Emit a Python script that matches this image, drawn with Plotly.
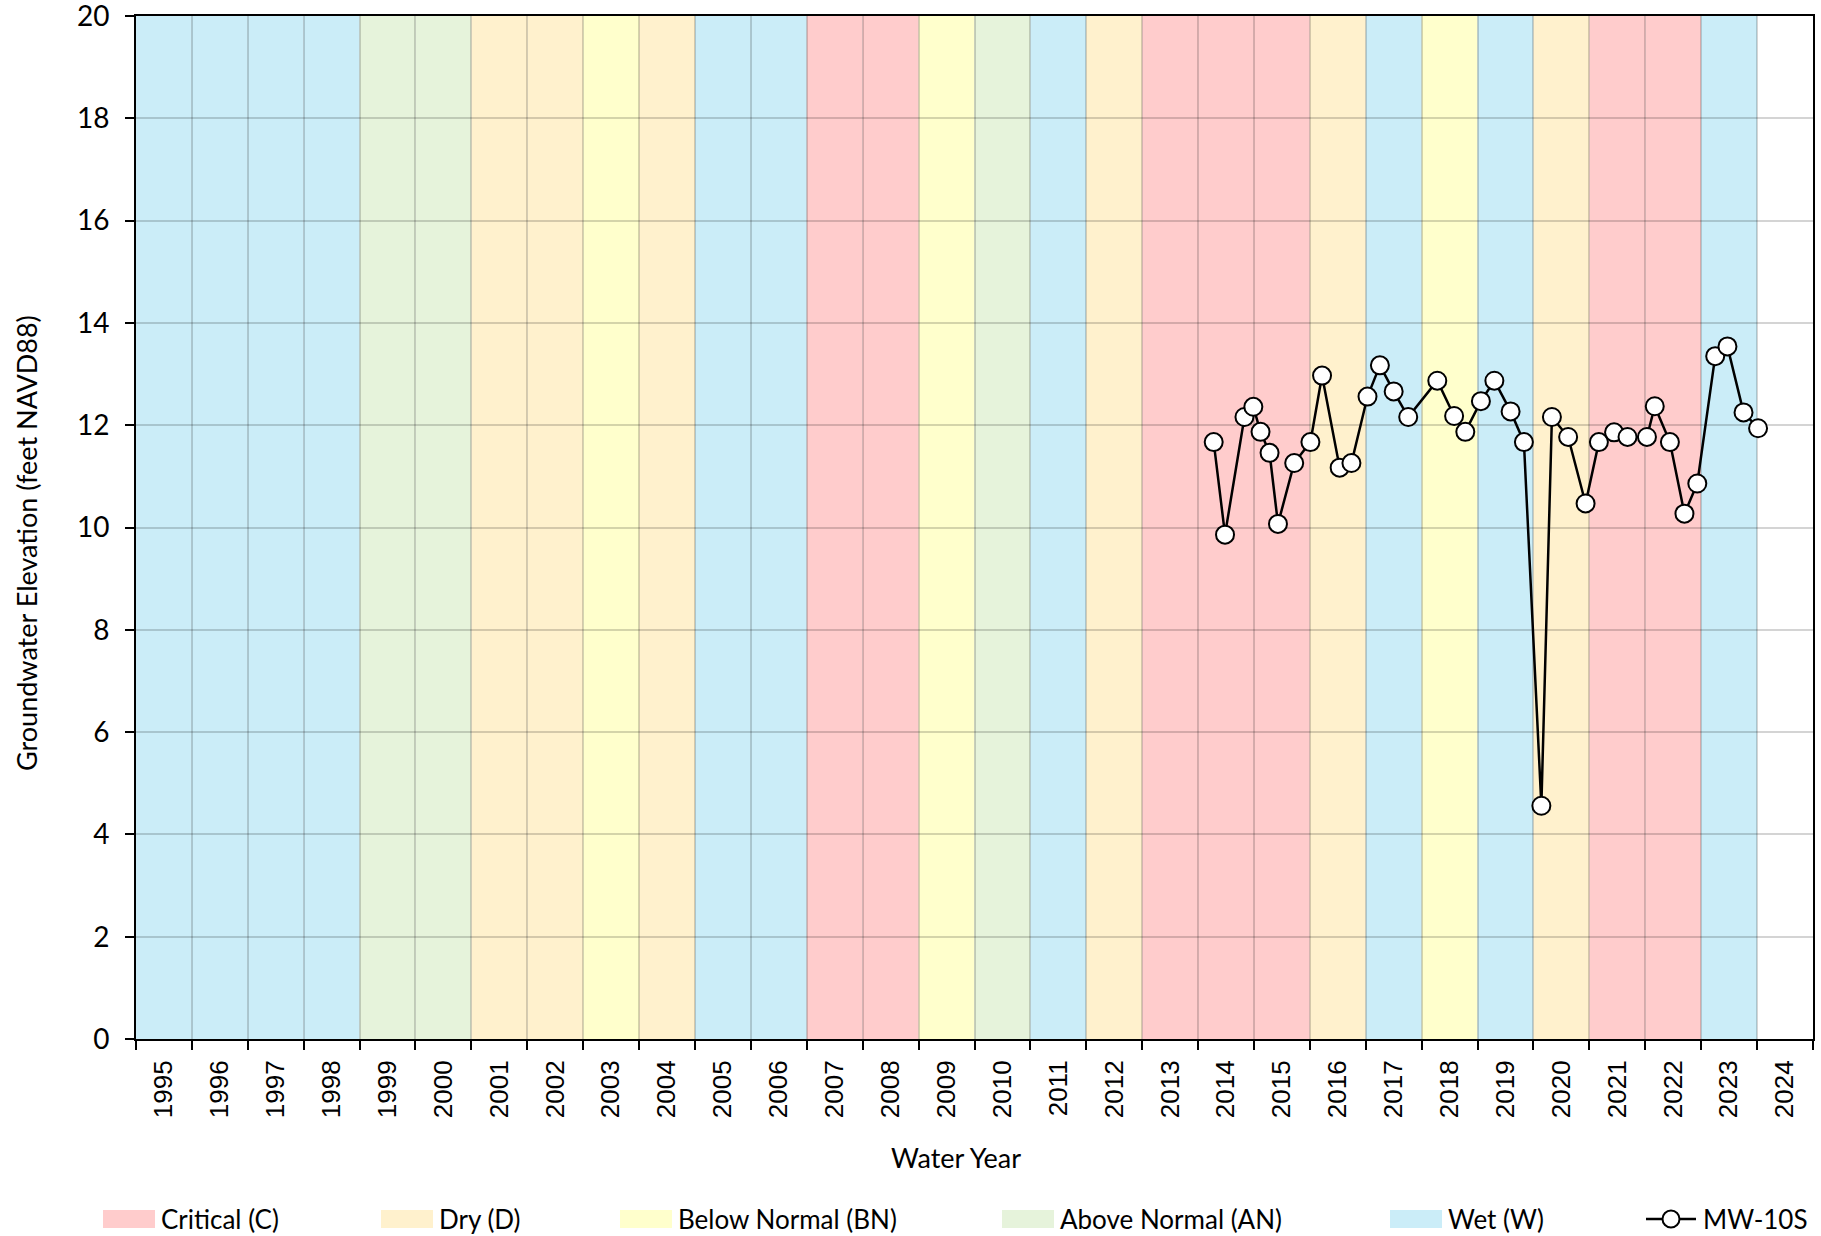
import plotly.graph_objects as go

# ---------------- data ----------------
wy_years = list(range(1995, 2025))
wy_types = ["W", "W", "W", "W", "AN", "AN", "D", "D", "BN", "D",
            "W", "W", "C", "C", "BN", "AN", "W", "D", "C", "C",
            "C", "D", "W", "BN", "W", "D", "C", "C", "W", ""]

type_names = ["C", "D", "BN", "AN", "W"]
type_labels = ["Critical (C)", "Dry (D)", "Below Normal (BN)", "Above Normal (AN)", "Wet (W)"]
type_colors = {"C": "#FFCCCC", "D": "#FFF1CD", "BN": "#FFFFCC", "AN": "#E6F3DB", "W": "#CBEDF8"}

series_name = "MW-10S"
dates = ["2014-01-11", "2014-03-26", "2014-07-31", "2014-09-27", "2014-11-13",
         "2015-01-11", "2015-03-07", "2015-06-21", "2015-10-05", "2015-12-20",
         "2016-04-13", "2016-06-29", "2016-10-12", "2017-01-01", "2017-04-01",
         "2017-07-05", "2018-01-11", "2018-05-01", "2018-07-13", "2018-10-23",
         "2019-01-19", "2019-05-05", "2019-07-31", "2019-11-22", "2020-01-30",
         "2020-05-15", "2020-09-06", "2020-12-02", "2021-03-11", "2021-06-07",
         "2021-10-12", "2021-12-02", "2022-03-11", "2022-06-14", "2022-09-06",
         "2023-01-01", "2023-03-22", "2023-07-05", "2023-10-08"]
elev = [11.67, 9.86, 12.16, 12.36, 11.87,
        11.46, 10.07, 11.26, 11.67, 12.97,
        11.17, 11.26, 12.56, 13.17, 12.66,
        12.16, 12.87, 12.18, 11.87, 12.47,
        12.87, 12.27, 11.67, 4.56, 12.16,
        11.77, 10.47, 11.67, 11.86, 11.77,
        11.77, 12.37, 11.67, 10.27, 10.86,
        13.35, 13.54, 12.25, 11.94]

y_ticks = list(range(0, 21, 2))

# ---------------- layout geometry ----------------
W, H = 1821, 1236
ML, MR, MT, MB = 136, 8, 16, 197
PW = W - ML - MR
PH = H - MT - MB


def px_x(px):
    return (px - ML) / PW


def px_y(py):
    return (H - MB - py) / PH


CAL = "Lato, Carlito, Calibri, 'Open Sans', sans-serif"
ARI = "'Liberation Sans', Arial, sans-serif"
TXT = 27
LEG = 26

fig = go.Figure()

fig.add_trace(go.Scatter(
    x=dates, y=elev, mode="lines+markers", name=series_name,
    line=dict(color="black", width=2.5),
    marker=dict(size=18, color="white", line=dict(color="black", width=2)),
    showlegend=False,
))

shapes = []
for yr, t in zip(wy_years, wy_types):
    if not t:
        continue
    shapes.append(dict(type="rect", xref="x", yref="paper",
                       x0=f"{yr - 1}-10-01", x1=f"{yr}-10-01", y0=0, y1=1,
                       fillcolor=type_colors[t], line=dict(width=0), layer="below"))

annotations = []
# axis titles
annotations.append(dict(text="Groundwater Elevation (feet NAVD88)", xref="paper", yref="paper",
                        x=px_x(26), y=px_y(543), textangle=-90, showarrow=False,
                        xanchor="center", yanchor="middle",
                        font=dict(family=CAL, size=TXT, color="black")))
annotations.append(dict(text="Water Year", xref="paper", yref="paper",
                        x=px_x(956), y=px_y(1157), showarrow=False,
                        xanchor="center", yanchor="middle",
                        font=dict(family=CAL, size=TXT, color="black")))

# manual legend
leg_y = 1219
swatch_x = [103, 381, 620, 1002, 1390]
for t, lab, sx in zip(type_names, type_labels, swatch_x):
    shapes.append(dict(type="rect", xref="paper", yref="paper",
                       x0=px_x(sx), x1=px_x(sx + 52), y0=px_y(leg_y + 9), y1=px_y(leg_y - 9),
                       fillcolor=type_colors[t], line=dict(width=0)))
    annotations.append(dict(text=lab, xref="paper", yref="paper", x=px_x(sx + 56), y=px_y(leg_y),
                            xanchor="left", yanchor="middle", showarrow=False,
                            font=dict(family=CAL, size=LEG, color="black")))
lx0, lx1 = 1646, 1696
shapes.append(dict(type="line", xref="paper", yref="paper", x0=px_x(lx0), x1=px_x(lx1),
                   y0=px_y(leg_y), y1=px_y(leg_y), line=dict(color="black", width=2.5)))
cx, r = (lx0 + lx1) / 2, 8.5
shapes.append(dict(type="circle", xref="paper", yref="paper", x0=px_x(cx - r), x1=px_x(cx + r),
                   y0=px_y(leg_y + r), y1=px_y(leg_y - r), fillcolor="white",
                   line=dict(color="black", width=2)))
annotations.append(dict(text=series_name, xref="paper", yref="paper", x=px_x(lx1 + 5), y=px_y(leg_y),
                        xanchor="left", yanchor="middle", showarrow=False,
                        font=dict(family=CAL, size=LEG, color="black")))

grid_col = "rgba(0,0,0,0.17)"

fig.update_layout(
    width=W, height=H,
    margin=dict(l=ML, r=MR, t=MT, b=MB, pad=0, autoexpand=False),
    paper_bgcolor="white", plot_bgcolor="white",
    showlegend=False,
    shapes=shapes, annotations=annotations,
    xaxis=dict(
        type="date", range=["1994-10-01", "2024-10-01"], automargin=False,
        tickmode="array", tickvals=[f"{y}-04-01" for y in wy_years],
        ticktext=[str(y) for y in wy_years], tickangle=-90,
        ticks="", ticklen=0, showgrid=False, zeroline=False,
        tickfont=dict(family=ARI, size=26, color="black"),
        ticklabelstandoff=9, ticklabeloverflow="allow",
        showline=True, linecolor="black", linewidth=2, mirror=True,
        minor=dict(tickmode="linear", tick0="1994-10-01", dtick="M12", ticks="outside", ticklen=9,
                   tickwidth=1.5, tickcolor="black", showgrid=True,
                   gridcolor=grid_col, gridwidth=1.5),
    ),
    yaxis=dict(
        range=[0, 20], automargin=False,
        tickmode="array", tickvals=y_ticks, ticktext=[str(v) for v in y_ticks],
        ticks="outside", ticklen=9, tickwidth=1.5, tickcolor="black",
        showgrid=True, gridcolor=grid_col, gridwidth=1.5, zeroline=False,
        tickfont=dict(family=CAL, size=28, color="black"),
        ticklabelstandoff=10, ticklabeloverflow="allow",
        showline=True, linecolor="black", linewidth=2, mirror=True,
    ),
)

fig.write_html("out.html", config={"displayModeBar": False},
               post_script="document.body.style.margin='0px';document.body.style.padding='0px';")
